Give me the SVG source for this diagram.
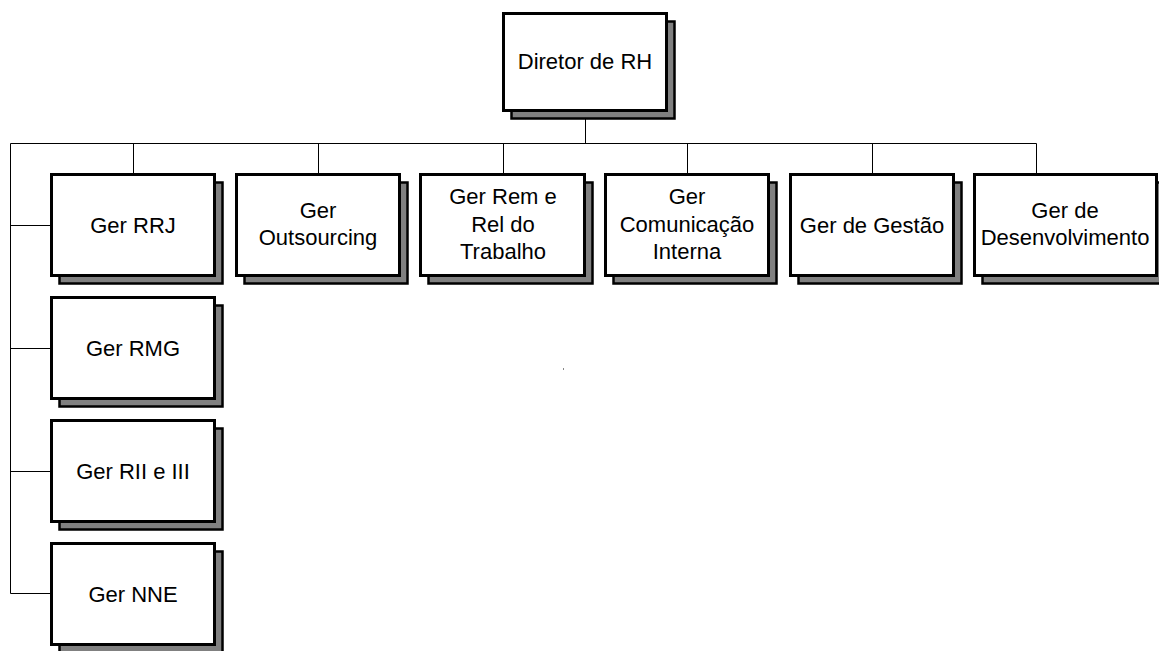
<svg xmlns="http://www.w3.org/2000/svg" width="1159" height="651" viewBox="0 0 1159 651">
<defs>
<style>
.shadow{fill:#808080;stroke:#000;stroke-width:2.5}
.box{fill:#fff;stroke:#000;stroke-width:3}
.lbl{font-family:"Liberation Sans",Arial,sans-serif;font-size:22px;fill:#000;text-anchor:middle}
.conn{stroke:#000;stroke-width:1;fill:none}
</style>
</defs>
<rect width="1159" height="651" fill="#fff"/>
<g id="connectors">
<path class="conn" d="M585.5,112 V143.5 M10.5,143.5 H1036.5 M133.5,143.5 V173 M318.5,143.5 V173 M503.5,143.5 V173 M687.5,143.5 V173 M872.5,143.5 V173 M1036.5,143.5 V173 M10.5,143.5 V593.5 M10.5,225.5 H50 M10.5,348.5 H50 M10.5,471.5 H50 M10.5,593.5 H50"/>
</g>
<g id="n-diretor">
<rect class="shadow" x="511.5" y="21.5" width="163" height="97"/>
<rect class="box" x="503.5" y="13.5" width="163" height="97"/>
<text class="lbl" x="585" y="69">Diretor de RH</text>
</g>
<g id="n-rrj">
<rect class="shadow" x="59.5" y="182.5" width="163" height="101"/>
<rect class="box" x="51.5" y="174.5" width="163" height="101"/>
<text class="lbl" x="133" y="233">Ger RRJ</text>
</g>
<g id="n-outsourcing">
<rect class="shadow" x="244.5" y="182.5" width="163" height="101"/>
<rect class="box" x="236.5" y="174.5" width="163" height="101"/>
<text class="lbl" x="318" y="218">Ger</text>
<text class="lbl" x="318" y="245">Outsourcing</text>
</g>
<g id="n-rem">
<rect class="shadow" x="428.5" y="182.5" width="164" height="101"/>
<rect class="box" x="420.5" y="174.5" width="164" height="101"/>
<text class="lbl" x="503" y="204">Ger Rem e</text>
<text class="lbl" x="503" y="232">Rel do</text>
<text class="lbl" x="503" y="259">Trabalho</text>
</g>
<g id="n-comunicacao">
<rect class="shadow" x="613.5" y="182.5" width="163" height="101"/>
<rect class="box" x="605.5" y="174.5" width="163" height="101"/>
<text class="lbl" x="687" y="204">Ger</text>
<text class="lbl" x="687" y="232">Comunicação</text>
<text class="lbl" x="687" y="259">Interna</text>
</g>
<g id="n-gestao">
<rect class="shadow" x="798.5" y="182.5" width="163" height="101"/>
<rect class="box" x="790.5" y="174.5" width="163" height="101"/>
<text class="lbl" x="872" y="233">Ger de Gestão</text>
</g>
<g id="n-desenvolvimento">
<rect class="shadow" x="982.5" y="182.5" width="182" height="101"/>
<rect class="box" x="974.5" y="174.5" width="182" height="101"/>
<text class="lbl" x="1065" y="218">Ger de</text>
<text class="lbl" x="1065" y="245">Desenvolvimento</text>
</g>
<g id="n-rmg">
<rect class="shadow" x="59.5" y="305.5" width="163" height="101"/>
<rect class="box" x="51.5" y="297.5" width="163" height="101"/>
<text class="lbl" x="133" y="356">Ger RMG</text>
</g>
<g id="n-rii">
<rect class="shadow" x="59.5" y="428.5" width="163" height="101"/>
<rect class="box" x="51.5" y="420.5" width="163" height="101"/>
<text class="lbl" x="133" y="479">Ger RII e III</text>
</g>
<g id="n-nne">
<rect class="shadow" x="59.5" y="551.5" width="163" height="101"/>
<rect class="box" x="51.5" y="543.5" width="163" height="101"/>
<text class="lbl" x="133" y="602">Ger NNE</text>
</g>
<rect x="563" y="368" width="1" height="2" fill="#888"/>
</svg>
